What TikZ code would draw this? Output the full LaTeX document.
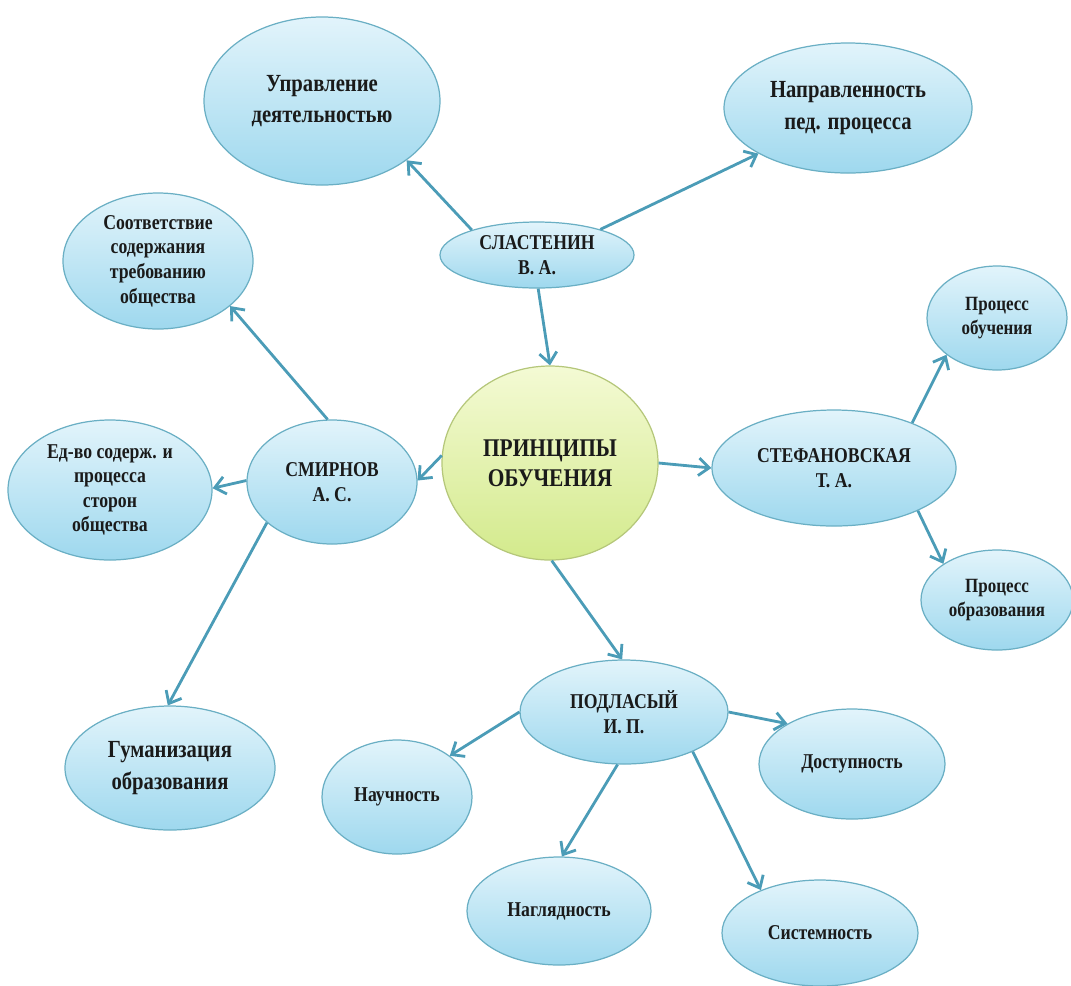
\documentclass[tikz,border=0pt]{standalone}
\usepackage{fontspec}
\setmainfont{Liberation Serif}[FakeStretch=0.84]
\usetikzlibrary{arrows.meta,shapes.geometric}

\definecolor{bubline}{HTML}{6AAFC4}
\definecolor{bubtop}{HTML}{E2F4FB}
\definecolor{bubbot}{HTML}{9ED8EE}
\definecolor{midline}{HTML}{B5C77A}
\definecolor{midtop}{HTML}{F4FAD4}
\definecolor{midbot}{HTML}{D3EA8C}
\definecolor{arrowc}{HTML}{4B9CB7}
\definecolor{txt}{HTML}{1A1A1A}

\begin{document}
\begin{tikzpicture}[x=0.02cm,y=-0.02cm,
  rad/.style 2 args={minimum width={2*#1*0.02cm}, minimum height={2*#2*0.02cm}},
  bub/.style={ellipse, draw=bubline, line width=0.7pt, top color=bubtop,
    bottom color=bubbot, inner sep=0pt, align=center, text=txt,
    font=\bfseries\fontsize{12}{14}\selectfont},
  bigtext/.style={font=\bfseries\fontsize{14}{18}\selectfont},
  smalltext/.style={font=\bfseries\fontsize{11.5}{14}\selectfont},
  hub/.style={bub, draw=midline, top color=midtop, bottom color=midbot,
    font=\bfseries\fontsize{14.5}{17}\selectfont},
  link/.style={draw=arrowc, line width=1.6pt,
    -{Straight Barb[length=6pt,width=10pt,line width=1.6pt]}}
]
\useasboundingbox (0,0) rectangle (1071,985);

% central node
\node[hub, rad={108}{97}] (princ) at (550,463) {ПРИНЦИПЫ\\ОБУЧЕНИЯ};

% authors
\node[bub, rad={97}{33}]  (sl)   at (537,255) {СЛАСТЕНИН\\В. А.};
\node[bub, rad={85}{62}]  (smir) at (332,482) {СМИРНОВ\\А. С.};
\node[bub, rad={122}{58}] (stef) at (834,468) {СТЕФАНОВСКАЯ\\Т. А.};
\node[bub, rad={104}{52}] (podl) at (624,712) {ПОДЛАСЫЙ\\И. П.};

% principles
\node[bub, bigtext, rad={118}{84}] (upr) at (322,101) {Управление\\деятельностью};
\node[bub, bigtext, rad={124}{65}] (nap) at (848,108) {Направленность\\пед. процесса};
\node[bub, rad={95}{68}]  (sootv) at (158,261) {Соответствие\\содержания\\требованию\\общества};
\node[bub, rad={102}{70}] (edvo)  at (110,490) {Ед-во содерж. и\\процесса\\сторон\\общества};
\node[bub, bigtext, rad={105}{62}] (guman) at (170,768) {Гуманизация\\образования};
\node[bub, smalltext, rad={70}{52}] (pobuch) at (997,318) {Процесс\\обучения};
\node[bub, smalltext, rad={76}{50}] (pobraz) at (997,600) {Процесс\\образования};
\node[bub, rad={75}{57}]  (nauch) at (397,797) {Научность};
\node[bub, rad={92}{54}]  (nagl)  at (559,911) {Наглядность};
\node[bub, rad={93}{55}]  (dost)  at (852,764) {Доступность};
\node[bub, rad={98}{53}]  (sist)  at (820,933) {Системность};

% connectors
\draw[link] (sl.159)   -- (upr.-35);
\draw[link] (sl.22)    -- (nap.207);
\draw[link] (sl.-88)   -- (princ.90);
\draw[link] (princ.176) -- (smir.1);
\draw[link] (princ.0)  -- (stef.180);
\draw[link] (princ.-89) -- (podl.92);
\draw[link] (smir.94)  -- (sootv.-32);
\draw[link] (smir.179) -- (edvo.1);
\draw[link] (smir.212) -- (guman.92);
\draw[link] (stef.30)  -- (pobuch.216);
\draw[link] (stef.-27) -- (pobraz.146);
\draw[link] (podl.180) -- (nauch.38);
\draw[link] (podl.-97) -- (nagl.87);
\draw[link] (podl.0)   -- (dost.148);
\draw[link] (podl.-30) -- (sist.144);
\end{tikzpicture}
\end{document}
